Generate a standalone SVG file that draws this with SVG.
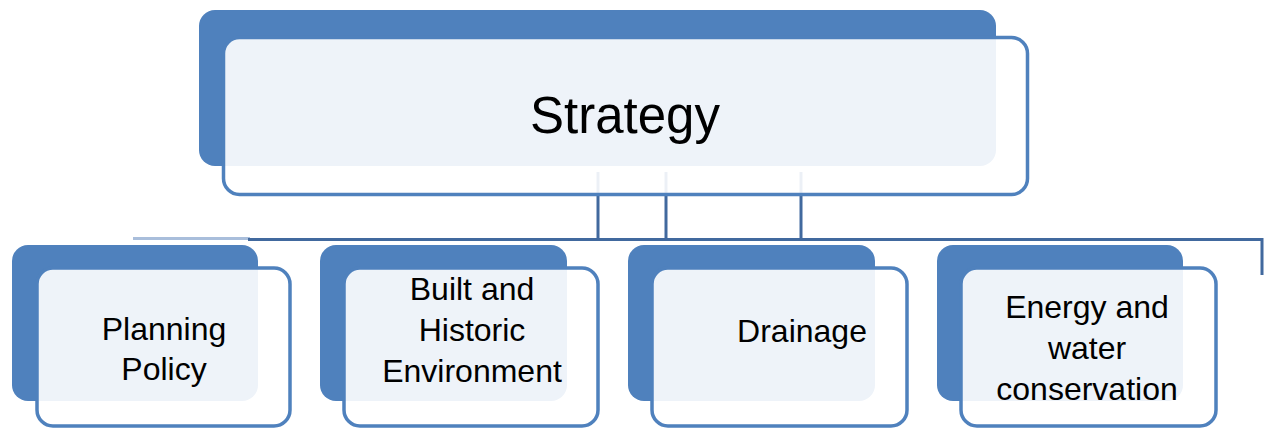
<svg xmlns="http://www.w3.org/2000/svg" width="1274" height="428" viewBox="0 0 1274 428">
<style>
.back{fill:#4F81BD}
.front{fill:#FFFFFF;fill-opacity:0.9;stroke:#4F81BD;stroke-width:3.5}
.conn{stroke:#41699E;stroke-width:3;fill:none}
.t{font-family:"Liberation Sans",Arial,sans-serif;fill:#000;text-anchor:middle}
.s{font-size:32px}
</style>
<rect width="1274" height="428" fill="#FFFFFF"/>
<g id="connectors">
<line class="conn" x1="133" y1="238.5" x2="250" y2="238.5" style="stroke:#A9BEDB"/>
<polyline class="conn" points="248,239.5 1262,239.5 1262,275"/>
<line class="conn" x1="598" y1="172" x2="598" y2="240"/>
<line class="conn" x1="666" y1="172" x2="666" y2="240"/>
<line class="conn" x1="801" y1="172" x2="801" y2="240"/>
</g>
<g id="strategy">
<rect class="back" x="199" y="10" width="797" height="156" rx="16"/>
<rect class="front" x="223.5" y="37.5" width="804" height="157" rx="16"/>
<text class="t" x="625" y="133" font-size="51">Strategy</text>
</g>
<g id="planning-policy">
<rect class="back" x="12" y="245" width="246" height="156" rx="16"/>
<rect class="front" x="37" y="268" width="253" height="158" rx="16"/>
<text class="t s" x="164" y="340">Planning</text>
<text class="t s" x="164" y="380">Policy</text>
</g>
<g id="built-historic">
<rect class="back" x="320" y="245" width="247" height="156" rx="16"/>
<rect class="front" x="344" y="268" width="254" height="158" rx="16"/>
<text class="t s" x="472" y="300">Built and</text>
<text class="t s" x="472" y="341">Historic</text>
<text class="t s" x="472" y="382">Environment</text>
</g>
<g id="drainage">
<rect class="back" x="628" y="245" width="247" height="156" rx="16"/>
<rect class="front" x="652" y="268" width="255" height="158" rx="16"/>
<text class="t s" x="802" y="342">Drainage</text>
</g>
<g id="energy-water">
<rect class="back" x="937" y="245" width="246" height="156" rx="16"/>
<rect class="front" x="961" y="268" width="255" height="158" rx="16"/>
<text class="t s" x="1087" y="318">Energy and</text>
<text class="t s" x="1087" y="359">water</text>
<text class="t s" x="1087" y="400">conservation</text>
</g>
</svg>
